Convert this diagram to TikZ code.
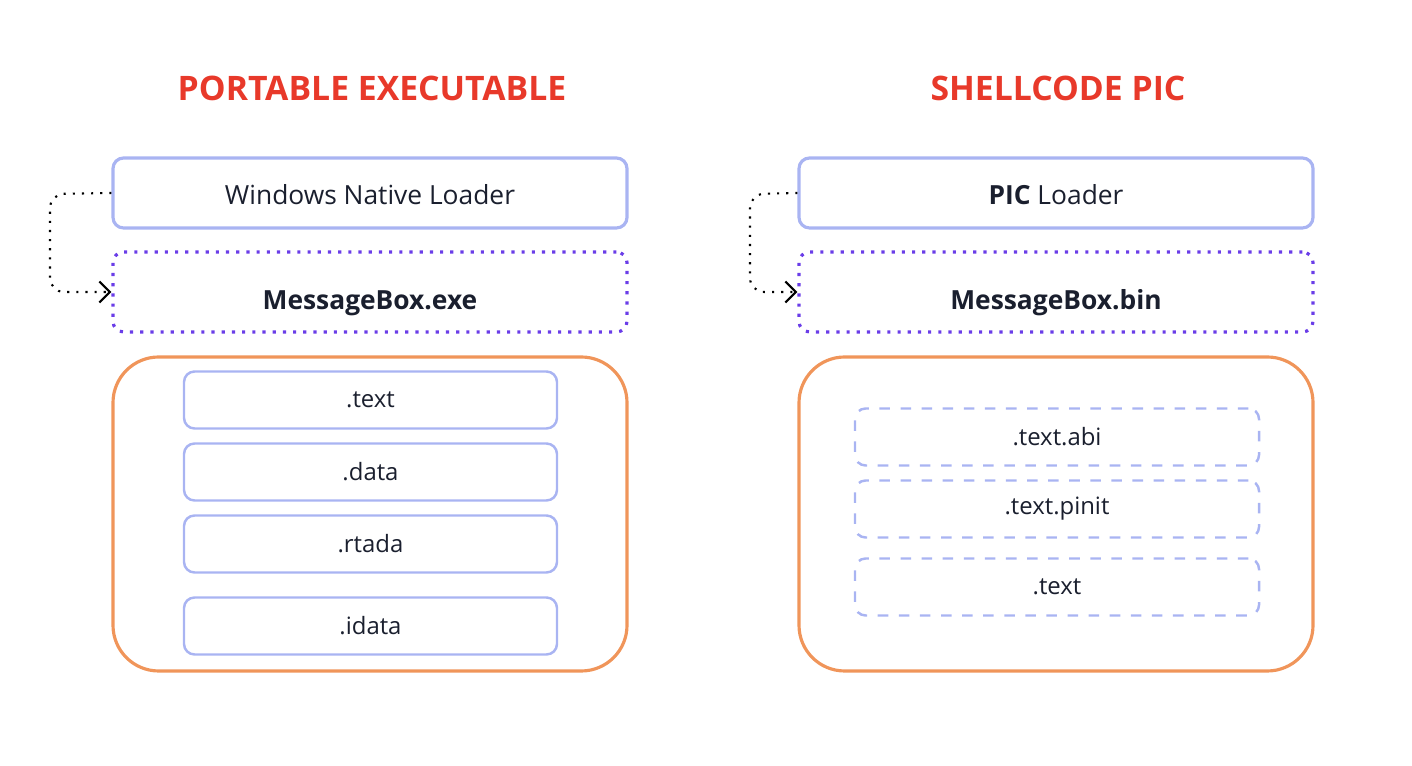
\documentclass[tikz,border=0pt]{standalone}
\usepackage{fontspec}
\setmainfont{Open Sans}
\usetikzlibrary{arrows.meta}
\definecolor{titleRed}{HTML}{E8392A}
\definecolor{boxBlue}{HTML}{A9B4F2}
\definecolor{boxPurple}{HTML}{6A3DE8}
\definecolor{boxOrange}{HTML}{F0955A}
\definecolor{textDark}{HTML}{1A1F2E}
\tikzset{
	title/.style={text=titleRed, font=\fontsize{9.6}{11}\selectfont\bfseries},
	loader/.style={draw=boxBlue, line width=0.9pt, rounded corners=3pt, minimum width=5.14cm, minimum height=0.70cm, text height=0.24cm, text depth=0cm, text=textDark, font=\fontsize{7.5}{9}\selectfont},
	image/.style={draw=boxPurple, line width=0.9pt, dotted, rounded corners=3pt, minimum width=5.14cm, minimum height=0.80cm, text height=0.36cm, text depth=0cm, text=textDark, font=\fontsize{7.5}{9}\selectfont\bfseries},
	body/.style={draw=boxOrange, line width=0.9pt, rounded corners=13pt, minimum width=5.14cm, minimum height=3.14cm},
	section/.style={draw=boxBlue, line width=0.7pt, rounded corners=3pt, minimum width=3.73cm, minimum height=0.57cm, text=textDark, font=\fontsize{6.8}{8}\selectfont},
	picsection/.style={section, dashed, minimum width=4.04cm},
	jump/.style={dotted, line width=0.6pt, rounded corners=4pt, -{Straight Barb[length=3pt]}}
}
\newcommand\sectionPE[3]{\node[section] (#1) at (3.705,#2) {#3};}
\newcommand\sectionPIC[3]{\node[picsection] (#1) at (10.57,#2) {#3};}

\begin{document}
\begin{tikzpicture}
	\useasboundingbox (0,0) rectangle (14.12,-7.66);

	% portable executable
	\node[title] (peTitle) at (3.72,-0.88) {PORTABLE EXECUTABLE};
	\node[loader] (peLoader) at (3.70,-1.93) {Windows Native Loader};
	\node[image] (peImage) at (3.70,-2.92) {MessageBox.exe};
	\node[body] (peBody) at (3.70,-5.14) {};
	\sectionPE{peText}{-4.00}{.text}
	\sectionPE{peData}{-4.72}{.data}
	\sectionPE{peRdata}{-5.44}{.rtada}
	\sectionPE{peIdata}{-6.26}{.idata}
	\coordinate (peBend) at (0.50,-1.94);
	\draw[jump] (peLoader.west) -- (peBend) |- (peImage.west);

	% shellcode
	\node[title] (picTitle) at (10.58,-0.88) {SHELLCODE PIC};
	\node[loader] (picLoader) at (10.56,-1.93) {\textbf{PIC} Loader};
	\node[image] (picImage) at (10.56,-2.92) {MessageBox.bin};
	\node[body] (picBody) at (10.56,-5.14) {};
	\sectionPIC{picAbi}{-4.37}{.text.abi}
	\sectionPIC{picPinit}{-5.09}{.text.pinit}
	\sectionPIC{picText}{-5.87}{.text}
	\coordinate (picBend) at (7.50,-1.94);
	\draw[jump] (picLoader.west) -- (picBend) |- (picImage.west);
\end{tikzpicture}
\end{document}
